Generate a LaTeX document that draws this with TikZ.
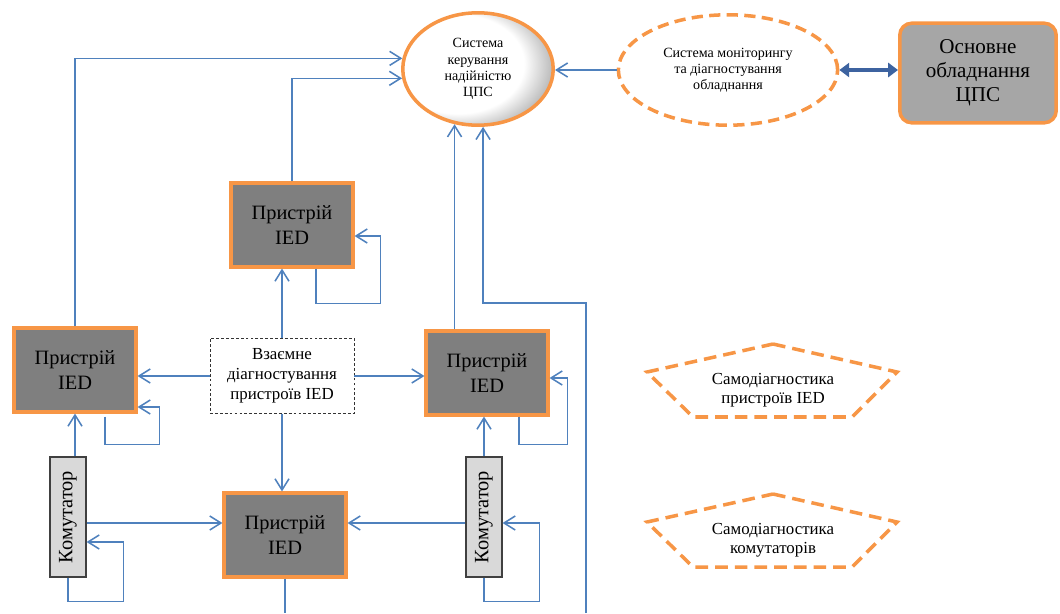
\documentclass[tikz,border=0pt]{standalone}
\usepackage{fontspec}
\setmainfont{Liberation Serif}
\usepackage{graphicx}
\usetikzlibrary{calc, arrows.meta, shapes.geometric}
\definecolor{linkblue}{RGB}{79,129,189}
\definecolor{frameorange}{RGB}{247,150,70}
\definecolor{iedgray}{RGB}{127,127,127}
\definecolor{maingray}{RGB}{166,166,166}
\definecolor{kommgray}{RGB}{217,217,217}
\definecolor{busblue}{RGB}{61,99,160}
\pgfdeclareradialshading{sysglow}{\pgfpoint{-12bp}{4bp}}{color(0bp)=(white); color(22bp)=(white); color(30bp)=(black!28); color(50bp)=(black!28)}

\begin{document}
\begin{tikzpicture}[x=0.025cm, y=-0.025cm,
    link/.style={draw=linkblue, line width=1.1pt, -{Straight Barb[length=8pt,width=10pt]}},
    bus/.style={draw=busblue, line width=3.5pt, {Triangle[length=7pt,width=10pt]}-{Triangle[length=7pt,width=10pt]}},
    ied/.style={draw=frameorange, line width=2.5pt, fill=iedgray, minimum width=3.04cm, minimum height=2.09cm, inner sep=0pt, align=center, font=\fontsize{14.5}{17.5}\selectfont},
    komm/.style={draw=black!75, line width=0.8pt, fill=kommgray, minimum width=0.9cm, minimum height=3.0cm, inner sep=0pt, font=\fontsize{14.5}{17}\selectfont},
    selfdiag/.style={draw=frameorange, line width=2.5pt, dash pattern=on 9pt off 5pt}]
  \useasboundingbox (0,0) rectangle (1060,613);
  % top row
  \node[ellipse, draw=frameorange, line width=2.5pt, shading=sysglow, minimum width=3.76cm, minimum height=2.81cm, inner sep=0pt, align=center, font=\fontsize{10}{11.5}\selectfont] (sys) at (478,69) {Система\\керування\\надійністю\\ЦПС};
  \node[ellipse, draw=frameorange, line width=2.5pt, dash pattern=on 8pt off 4.5pt, fill=white, minimum width=5.48cm, minimum height=2.76cm, inner sep=0pt, align=center, font=\fontsize{10}{11.5}\selectfont] (mon) at (728,70) {Система моніторингу\\та діагностування\\обладнання};
  \node[draw=frameorange, line width=2.5pt, fill=maingray, rounded corners=0.3cm, minimum width=3.91cm, minimum height=2.49cm, inner sep=0pt, align=center, font=\fontsize{15}{17}\selectfont] (eq) at (978,73) {Основне\\обладнання\\ЦПС};
  % IED devices
  \node[ied] (iedT) at (292,225) {Пристрій\\IED};
  \node[ied] (iedL) at (75,370) {Пристрій\\IED};
  \node[ied] (iedR) at (487,373) {Пристрій\\IED};
  \node[ied] (iedB) at (285,535) {Пристрій\\IED};
  \node[draw=black!80, dash pattern=on 2pt off 1.5pt, line width=0.6pt, minimum width=3.6cm, minimum height=1.88cm, inner sep=0pt, align=center, font=\fontsize{12}{14.2}\selectfont] (mut) at (282,376) {Взаємне\\діагностування\\пристроїв IED};
  % switches
  \node[komm] (komL) at (68,517) {\rotatebox{90}{Комутатор}};
  \node[komm] (komR) at (484,517) {\rotatebox{90}{Комутатор}};
  % self diagnostics
  \node[align=center, font=\fontsize{12}{13.7}\selectfont] (selfI) at (773,390) {Самодіагностика\\пристроїв IED};
  \node[align=center, font=\fontsize{12}{13.7}\selectfont] (selfK) at (773,540) {Самодіагностика\\комутаторів};
  \foreach \s in {selfI, selfK}
    \draw[selfdiag] ($(\s)+(0,-46)$) -- ($(\s)+(124,-18)$) -- ($(\s)+(79,27)$) -- ($(\s)+(-80,27)$) -- ($(\s)+(-126,-18)$) -- cycle;
  % lines to the control system
  \draw[link] (mon.west) -- (mon.west -| sys.east);
  \draw[bus] (mon.east) -- (mon.east -| eq.west);
  \draw[link] (iedL.north) |- (sys.172);
  \draw[link] (iedT.north) |- (sys.187);
  \draw[link] (iedR.north -| sys.247) -- (sys.247);
  \coordinate (cutR) at (586,613);
  \coordinate (bendR) at (586,303);
  \draw[link] (cutR) -- (bendR) -| (sys.275);
  \draw[draw=linkblue, line width=1.1pt] (iedB.south) -- (iedB.south |- cutR);
  % mutual diagnostics
  \draw[link] (mut.north) -- (mut.north |- iedT.south);
  \draw[link] (mut.west) -- (mut.west -| iedL.east);
  \draw[link] (mut.east) -- (mut.east -| iedR.west);
  \draw[link] (mut.south) -- (mut.south |- iedB.north);
  % switches to devices
  \draw[link] (iedL.south |- komL.north) -- (iedL.south);
  \draw[link] (komR.north) -- (komR.north |- iedR.south);
  \coordinate (inBL) at ($(iedB.west)+(0,-12)$);
  \coordinate (inBR) at ($(iedB.east)+(0,-12)$);
  \draw[link] (komL.east |- inBL) -- (inBL);
  \draw[link] (komR.west |- inBR) -- (inBR);
  % self loops
  \draw[link] ($(iedT.south)+(24,0)$) -- ++(0,35) -| ($(iedT.east)+(26,11)$) -- ($(iedT.east)+(0,11)$);
  \draw[link] ($(iedL.south)+(30,3)$) -- ++(0,28) -| ($(iedL.east)+(22,37)$) -- ($(iedL.east)+(0,37)$);
  \draw[link] ($(iedR.south)+(32,0)$) -- ++(0,28) -| ($(iedR.east)+(18,5)$) -- ($(iedR.east)+(0,5)$);
  \draw[link] (komL.south) -- ++(0,24) -| ($(komL.east)+(37,25)$) -- ($(komL.east)+(0,25)$);
  \draw[link] (komR.south) -- ++(0,24) -| ($(komR.east)+(37,6)$) -- ($(komR.east)+(0,6)$);
\end{tikzpicture}
\end{document}
